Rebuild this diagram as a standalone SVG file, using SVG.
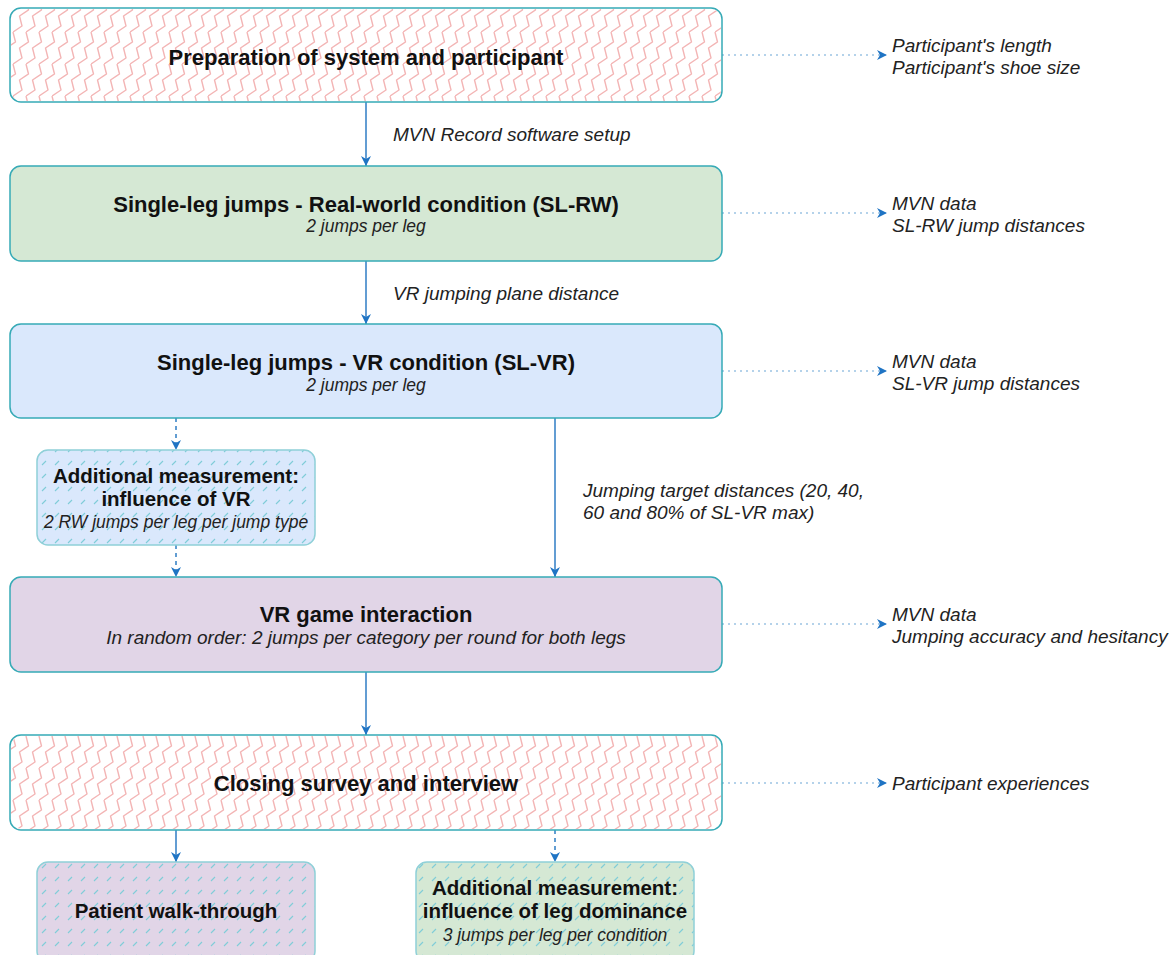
<svg xmlns="http://www.w3.org/2000/svg" width="1175" height="955" viewBox="0 0 1175 955">
<defs>
<style>
.box{stroke:#36aab6;stroke-width:1.5}
.sbox{stroke:#8fd0d8;stroke-width:1.5}
.t{font-family:"Liberation Sans",Arial,sans-serif;font-weight:bold;font-size:22px;fill:#111;text-anchor:middle}
.ts{font-family:"Liberation Sans",Arial,sans-serif;font-weight:bold;font-size:20.5px;fill:#111;text-anchor:middle}
.s{font-family:"Liberation Sans",Arial,sans-serif;font-style:italic;font-size:17.5px;fill:#222;text-anchor:middle}
.l{font-family:"Liberation Sans",Arial,sans-serif;font-style:italic;font-size:19px;fill:#222}
.e{stroke:#2f7dc4;stroke-width:1.5;fill:none}
.ed{stroke:#2f7dc4;stroke-width:1.5;fill:none;stroke-dasharray:4 4}
.eo{stroke:#9cc4e4;stroke-width:1.5;fill:none;stroke-dasharray:2 4}
.zp{fill:none;stroke:#f3b5b5;stroke-width:1.4;stroke-linejoin:round}
</style>
<pattern id="zz" width="13" height="32" patternUnits="userSpaceOnUse">
<path id="zl" class="zp" d="M0,32 l9,-6 l-2.5,-10 l9,-6 l-2.5,-10"/>
<path class="zp" d="M-13,32 l9,-6 l-2.5,-10 l9,-6 l-2.5,-10"/>
</pattern>
<pattern id="hb" width="13" height="13" patternUnits="userSpaceOnUse">
<rect width="13" height="13" fill="#dae8fc"/>
<path d="M3,10 L7,6" stroke="#7fcdd8" stroke-width="1.1"/>
</pattern>
<pattern id="hp" width="13" height="13" patternUnits="userSpaceOnUse">
<rect width="13" height="13" fill="#e1d5e7"/>
<path d="M3,10 L7,6" stroke="#7fcdd8" stroke-width="1.1"/>
</pattern>
<pattern id="hg" width="13" height="13" patternUnits="userSpaceOnUse">
<rect width="13" height="13" fill="#d5e8d4"/>
<path d="M3,10 L7,6" stroke="#7fcdd8" stroke-width="1.1"/>
</pattern>
<marker id="ar" viewBox="0 0 10 10" refX="10" refY="5" markerWidth="10" markerHeight="10" markerUnits="userSpaceOnUse" orient="auto">
<path d="M0,0 L10,5 L0,10 L3,5 z" fill="#1f74c4"/>
</marker>
</defs>
<rect width="1175" height="955" fill="#fff"/>

<g id="connectors">
<line class="e" x1="366" y1="102" x2="366" y2="166" marker-end="url(#ar)"/>
<line class="e" x1="366" y1="261" x2="366" y2="324" marker-end="url(#ar)"/>
<line class="e" x1="555" y1="418" x2="555" y2="577" marker-end="url(#ar)"/>
<line class="ed" x1="176" y1="418" x2="176" y2="450" marker-end="url(#ar)"/>
<line class="ed" x1="176" y1="545" x2="176" y2="577" marker-end="url(#ar)"/>
<line class="e" x1="366" y1="672" x2="366" y2="735" marker-end="url(#ar)"/>
<line class="e" x1="176" y1="830" x2="176" y2="862" marker-end="url(#ar)"/>
<line class="ed" x1="555" y1="830" x2="555" y2="862" marker-end="url(#ar)"/>
<line class="eo" x1="722" y1="55" x2="887" y2="55" marker-end="url(#ar)"/>
<line class="eo" x1="722" y1="213" x2="887" y2="213" marker-end="url(#ar)"/>
<line class="eo" x1="722" y1="371" x2="887" y2="371" marker-end="url(#ar)"/>
<line class="eo" x1="722" y1="624" x2="887" y2="624" marker-end="url(#ar)"/>
<line class="eo" x1="722" y1="783" x2="887" y2="783" marker-end="url(#ar)"/>
<text class="l" x="393" y="141">MVN Record software setup</text>
<text class="l" x="393" y="300">VR jumping plane distance</text>
<text class="l" x="583" y="497">Jumping target distances (20, 40,</text>
<text class="l" x="583" y="519">60 and 80% of SL-VR max)</text>
</g>

<g id="n1">
<rect class="box" x="10" y="8" width="712" height="94" rx="11" fill="#fff"/>
<rect x="11" y="9" width="710" height="92" rx="10" fill="url(#zz)"/>
<text class="t" x="366" y="65">Preparation of system and participant</text>
</g>
<g id="o1"><text class="l" x="892" y="52">Participant's length</text><text class="l" x="892" y="74">Participant's shoe size</text></g>

<g id="n2">
<rect class="box" x="10" y="166" width="712" height="95" rx="11" fill="#d5e8d4"/>
<text class="t" x="366" y="212">Single-leg jumps - Real-world condition (SL-RW)</text>
<text class="s" x="366" y="232">2 jumps per leg</text>
</g>
<g id="o2"><text class="l" x="892" y="210">MVN data</text><text class="l" x="892" y="232">SL-RW jump distances</text></g>

<g id="n3">
<rect class="box" x="10" y="324" width="712" height="94" rx="11" fill="#dae8fc"/>
<text class="t" x="366" y="370">Single-leg jumps - VR condition (SL-VR)</text>
<text class="s" x="366" y="391">2 jumps per leg</text>
</g>
<g id="o3"><text class="l" x="892" y="368">MVN data</text><text class="l" x="892" y="390">SL-VR jump distances</text></g>

<g id="nA">
<rect class="sbox" x="37" y="450" width="278" height="95" rx="11" fill="url(#hb)"/>
<text class="ts" x="176" y="483">Additional measurement:</text>
<text class="ts" x="176" y="506">influence of VR</text>
<text class="s" x="176" y="528">2 RW jumps per leg per jump type</text>
</g>

<g id="n4">
<rect class="box" x="10" y="577" width="712" height="95" rx="11" fill="#e1d5e7"/>
<text class="t" x="366" y="622">VR game interaction</text>
<text class="s" x="366" y="644" style="font-size:19px">In random order: 2 jumps per category per round for both legs</text>
</g>
<g id="o4"><text class="l" x="892" y="621">MVN data</text><text class="l" x="892" y="643">Jumping accuracy and hesitancy</text></g>

<g id="n5">
<rect class="box" x="10" y="735" width="712" height="95" rx="11" fill="#fff"/>
<rect x="11" y="736" width="710" height="93" rx="10" fill="url(#zz)"/>
<text class="t" x="366" y="791">Closing survey and interview</text>
</g>
<g id="o5"><text class="l" x="892" y="790">Participant experiences</text></g>

<g id="n6">
<rect class="sbox" x="37" y="862" width="278" height="100" rx="11" fill="url(#hp)"/>
<text class="ts" x="176" y="918">Patient walk-through</text>
</g>

<g id="n7">
<rect class="sbox" x="416" y="862" width="278" height="100" rx="11" fill="url(#hg)"/>
<text class="ts" x="555" y="895">Additional measurement:</text>
<text class="ts" x="555" y="918">influence of leg dominance</text>
<text class="s" x="555" y="941">3 jumps per leg per condition</text>
</g>
</svg>
